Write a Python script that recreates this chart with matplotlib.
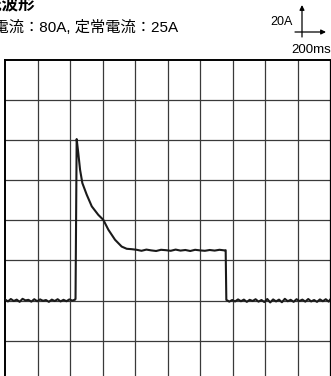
import matplotlib.pyplot as plt
import matplotlib as mpl

mpl.rcParams['font.family'] = ['Liberation Sans', 'Noto Sans CJK JP']

# waveform samples: time in ms, current in A
t_pre = [0, 18, 36, 54, 72, 90, 108, 126, 144, 162, 180, 198, 216, 234,
         252, 270, 288, 306, 324, 342, 360, 378, 396, 414, 432]
i_pre = [0.6, -0.4, 0.8, -0.2, 0.5, -0.6, 0.9, 0.1, 0.4, -0.5, 0.7, -0.3,
         0.6, -0.1, 0.3, -0.6, 0.5, -0.2, 0.7, -0.4, 0.4, -0.3, 0.6, 0.0, 0.5]

t_surge = [434, 441, 451, 462, 476, 503, 534, 574, 605, 636, 677, 718, 749, 780]
i_surge = [1.0, 80.4, 73.4, 65.1, 58.5, 52.7, 46.9, 42.7, 40.2, 35.3, 30.3,
           26.9, 25.8, 25.6]

t_hold = [810, 840, 870, 900, 930, 960, 990, 1020, 1050, 1080, 1110, 1140,
          1170, 1200, 1230, 1260, 1290, 1320, 1350, 1358]
i_hold = [25.3, 24.8, 25.4, 25.0, 24.7, 25.3, 25.1, 24.8, 25.4, 24.9, 25.2,
          24.7, 25.3, 25.0, 24.8, 25.2, 24.9, 25.3, 25.0, 25.1]

t_post = [1362, 1380, 1398, 1416, 1434, 1452, 1470, 1488, 1506, 1524, 1542,
          1560, 1578, 1596, 1614, 1632, 1650, 1668, 1686, 1704, 1722, 1740,
          1758, 1776, 1794, 1812, 1830, 1848, 1866, 1884, 1902, 1920, 1938,
          1956, 1974, 1992, 2000]
i_post = [0.4, -0.5, 0.3, -0.4, 0.6, -0.3, 0.5, -0.6, 0.4, -0.2, 0.7, -0.5,
          0.3, -0.7, 0.8, -0.9, 0.6, -0.4, 0.5, -0.8, 0.9, -0.3, 0.4, -0.6,
          0.7, -0.2, 0.5, -0.5, 0.8, -0.4, 0.3, -0.6, 0.6, -0.3, 0.7, -0.5, 0.4]

t = t_pre + t_surge + t_hold + t_post
cur = i_pre + i_surge + i_hold + i_post

W, H = 331, 376
fig = plt.figure(figsize=(W / 100, H / 100), dpi=100)
ax = fig.add_axes([5 / W, -5 / H, 325 / W, 321.5 / H])

ax.set_xlim(0, 2000)
ax.set_ylim(-40, 120)
for x in range(200, 2000, 200):
    ax.axvline(x, color='#3a3a3a', lw=0.9, zorder=1)
for y in range(-20, 120, 20):
    ax.axhline(y, color='#3a3a3a', lw=0.9, zorder=1)
ax.set_xticks([])
ax.set_yticks([])
for side in ['top', 'left']:
    ax.spines[side].set_linewidth(1.4)
for side in ['right', 'bottom']:
    ax.spines[side].set_linewidth(0.9)

ax.plot(t, cur, color='#1a1a1a', lw=1.5, zorder=3)

# heading, partially cut at the left edge
fig.text(35 / W, 1 - 10 / H, '突入電流波形', ha='right', va='baseline',
         fontsize=12, fontweight='bold', family=['Noto Sans CJK JP'])
fig.text(178 / W, 1 - 27 / H, '突入電流：80A, 定常電流：25A', ha='right',
         va='center', fontsize=11)

# scale marker
fig.text(293 / W, 1 - 22 / H, '20A', ha='right', va='center', fontsize=9)
fig.text(331 / W, 1 - 50 / H, '200ms', ha='right', va='center', fontsize=9.5)
ax.annotate('', xy=(302, H - 5), xytext=(302, H - 37),
            xycoords='figure pixels', textcoords='figure pixels',
            arrowprops=dict(arrowstyle='-|>', lw=0.9, color='black',
                            mutation_scale=7, shrinkA=0, shrinkB=0))
ax.annotate('', xy=(326, H - 32), xytext=(295, H - 32),
            xycoords='figure pixels', textcoords='figure pixels',
            arrowprops=dict(arrowstyle='-|>', lw=0.9, color='black',
                            mutation_scale=7, shrinkA=0, shrinkB=0))

fig.savefig('out.png', dpi=100)
